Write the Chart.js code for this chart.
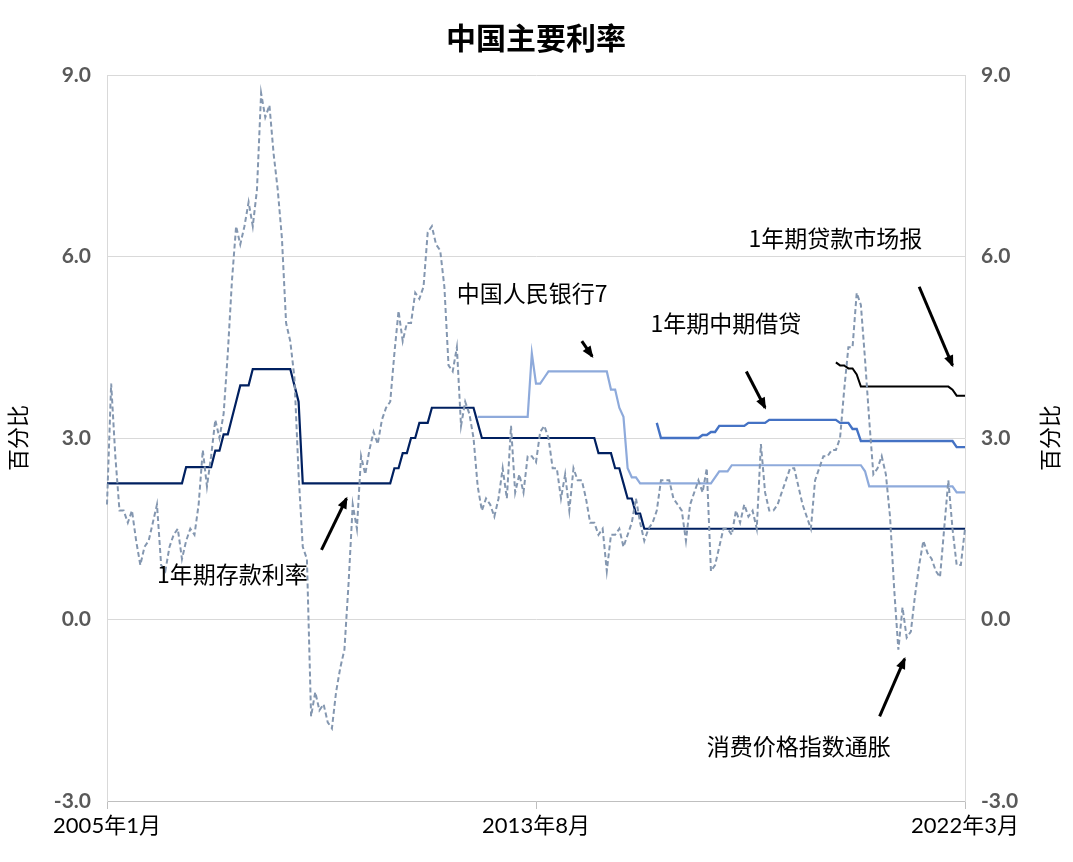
<!DOCTYPE html>
<html><head><meta charset="utf-8">
<script src="https://cdn.jsdelivr.net/npm/chart.js@4"></script>
<style>html,body{margin:0;padding:0;background:#fff}#w{width:1073px;height:862px}</style>
</head><body><div id="w"><canvas id="c"></canvas></div>
<script>
// months 2005-01 .. 2022-03
const startYear = 2005, monthCount = 207;
const tickLabelIdx = [0, 103, 206];
const yTicks = [-3, 0, 3, 6, 9];
// run-length [value, months]
const depositRuns = [[2.25,19],[2.52,7],[2.79,2],[3.06,2],[3.33,1],[3.60,1],[3.87,3],[4.14,10],[3.87,1],[3.60,1],[2.25,22],[2.50,2],[2.75,2],[3.00,2],[3.25,3],[3.50,11],[3.25,1],[3.00,28],[2.75,4],[2.50,2],[2.25,1],[2.00,2],[1.75,2],[1.50,78]];
const repoRuns = [[null,89],[3.35,13],[4.4,1],[3.9,2],[4.0,1],[4.1,15],[3.8,2],[3.5,1],[3.35,1],[2.5,1],[2.35,2],[2.25,18],[2.35,1],[2.45,3],[2.55,32],[2.45,1],[2.2,21],[2.1,3]];
const mlfRuns = [[null,132],[3.25,1],[3.0,10],[3.05,2],[3.1,2],[3.2,7],[3.25,5],[3.3,17],[3.25,3],[3.15,2],[2.95,23],[2.85,3]];
const lprRuns = [[null,175],[4.25,1],[4.2,2],[4.15,2],[4.05,1],[3.85,22],[3.8,1],[3.7,3]];
const cpi = [1.9,3.9,2.7,1.8,1.8,1.6,1.8,1.3,0.9,1.2,1.3,1.6,
1.9,0.9,0.8,1.2,1.4,1.5,1.0,1.3,1.5,1.4,1.9,2.8,
2.2,2.7,3.3,3.0,3.4,4.4,5.6,6.5,6.2,6.5,6.9,6.5,
7.1,8.7,8.3,8.5,7.7,7.1,6.3,4.9,4.6,4.0,2.4,1.2,
1.0,-1.6,-1.2,-1.5,-1.4,-1.7,-1.8,-1.2,-0.8,-0.5,0.6,1.9,
1.5,2.7,2.4,2.8,3.1,2.9,3.3,3.5,3.6,4.4,5.1,4.6,
4.9,4.9,5.4,5.3,5.5,6.4,6.5,6.2,6.1,5.5,4.2,4.1,
4.5,3.2,3.6,3.4,3.0,2.2,1.8,2.0,1.9,1.7,2.0,2.5,
2.0,3.2,2.1,2.4,2.1,2.7,2.7,2.6,3.1,3.2,3.0,2.5,
2.5,2.0,2.4,1.8,2.5,2.3,2.3,2.0,1.6,1.6,1.4,1.5,
0.8,1.4,1.4,1.5,1.2,1.4,1.6,2.0,1.6,1.3,1.5,1.6,
1.8,2.3,2.3,2.3,2.0,1.9,1.8,1.3,1.9,2.1,2.3,2.1,
2.5,0.8,0.9,1.2,1.5,1.5,1.4,1.8,1.6,1.9,1.7,1.8,
1.5,2.9,2.1,1.8,1.8,1.9,2.1,2.3,2.5,2.5,2.2,1.9,
1.7,1.5,2.3,2.5,2.7,2.7,2.8,2.8,3.0,3.8,4.5,4.5,
5.4,5.2,4.3,3.3,2.4,2.5,2.7,2.4,1.7,0.5,-0.5,0.2,
-0.3,-0.2,0.4,0.9,1.3,1.1,1.0,0.8,0.7,1.5,2.3,1.5,
0.9,0.9,1.5];
// annotations: [text, textIdx, textY, arrowFrom[idx,y], arrowTo[idx,y]]
const notes = [
 ['1年期存款利率', 12, 0.75, [51.5,1.15], [57.5,2.0]],
 ['中国人民银行7', 84, 5.4, [114,4.6], [116.5,4.35]],
 ['1年期中期借贷', 130.5, 4.9, [153.5,4.1], [158,3.5]],
 ['1年期贷款市场报', 154, 6.3, [195,5.5], [203,4.2]],
 ['消费价格指数通胀', 144, -2.1, [185.5,-1.6], [191.5,-0.65]]
];
const expand = r => r.flatMap(([v,n]) => Array(n).fill(v));
const labels = Array.from({length: monthCount}, (_, i) => (startYear + Math.floor(i/12)) + '年' + (i%12+1) + '月');
const F = "'Lato','Noto Sans CJK SC',sans-serif";
const annot = {
  id:'annot',
  afterDraw(ch){
    const c = ch.ctx, x = ch.scales.x, y = ch.scales.y;
    c.save();
    c.font = "bold 30px 'Noto Sans CJK SC',sans-serif"; c.fillStyle='#000'; c.textAlign='center'; c.textBaseline='middle';
    c.fillText('中国主要利率', 536, 38);
    c.font = "22px 'Noto Sans CJK SC',sans-serif";
    c.save(); c.translate(1050, (ch.chartArea.top+ch.chartArea.bottom)/2); c.rotate(-Math.PI/2);
    c.fillText('百分比', 0, 0); c.restore();
    c.font = "23px 'Noto Sans CJK SC',sans-serif"; c.textAlign='left';
    notes.forEach(([t, ti, ty, a, b]) => {
      c.fillStyle='#000'; c.fillText(t, x.getPixelForValue(ti), y.getPixelForValue(ty));
      const x1=x.getPixelForValue(a[0]), y1=y.getPixelForValue(a[1]), x2=x.getPixelForValue(b[0]), y2=y.getPixelForValue(b[1]);
      c.strokeStyle='#000'; c.lineWidth=3; c.beginPath(); c.moveTo(x1,y1); c.lineTo(x2,y2); c.stroke();
      const ang=Math.atan2(y2-y1,x2-x1), L=11;
      c.beginPath(); c.moveTo(x2+2*Math.cos(ang),y2+2*Math.sin(ang));
      c.lineTo(x2-L*Math.cos(ang-0.45),y2-L*Math.sin(ang-0.45));
      c.lineTo(x2-L*Math.cos(ang+0.45),y2-L*Math.sin(ang+0.45)); c.closePath(); c.fill();
    });
    c.restore();
  }
};
const yAxis = (pos) => ({
  position: pos, min:-3, max:9,
  afterBuildTicks: s => { s.ticks = yTicks.map(v => ({value:v})); },
  afterFit: s => { s.width = pos==='left' ? 107 : 108; },
  grid:{display: pos==='left', color:'#d9d9d9', drawTicks:false, drawOnChartArea:true},
  border:{display:true, color:'#d9d9d9'},
  title:{display: pos==='left', text:'百分比', font:{size:22, family:"'Noto Sans CJK SC'"}, color:'#000'},
  ticks:{padding:16, color:'#595959', font:{size:21, weight:'bold', family:F}, callback: v => v.toFixed(1)}
});
new Chart(document.getElementById('c'), {
  type:'line',
  data:{labels, datasets:[
    {data:cpi, borderColor:'#8497b0', borderDash:[5,3], borderWidth:2},
    {data:expand(depositRuns), borderColor:'#002060', borderWidth:2.2},
    {data:expand(repoRuns), borderColor:'#8eaadb', borderWidth:2.2},
    {data:expand(mlfRuns), borderColor:'#4472c4', borderWidth:2.4},
    {data:expand(lprRuns), borderColor:'#000', borderWidth:2}
  ]},
  options:{
    responsive:true, maintainAspectRatio:false, animation:false,
    layout:{padding:{top:75, left:0, right:0, bottom:0}},
    elements:{point:{radius:0}, line:{tension:0}},
    plugins:{legend:{display:false}, tooltip:{enabled:false}, title:{display:false}},
    scales:{
      x:{offset:false, afterFit: s => { s.height = 61; },
        grid:{display:true, drawOnChartArea:false, color:'#bfbfbf', tickLength:8},
        border:{color:'#bfbfbf'},
        afterBuildTicks: s => { s.ticks = tickLabelIdx.map(v => ({value:v})); },
        ticks:{autoSkip:false, maxRotation:0, color:'#000', font:{size:22, family:F}, padding:4,
          callback: function(v){ return labels[v]; }}
      },
      y: yAxis('left'),
      y2: yAxis('right')
    }
  },
  plugins:[annot]
});
</script></body></html>
